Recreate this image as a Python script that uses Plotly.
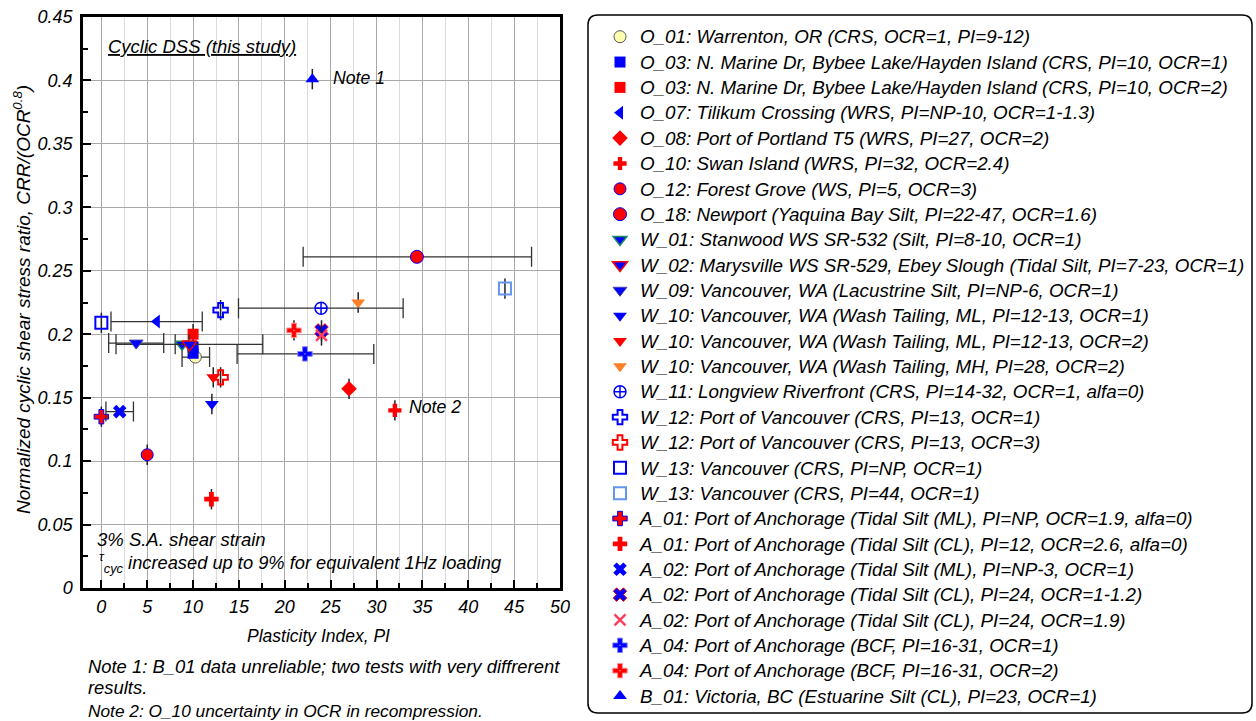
import plotly.graph_objects as go

# ---------------- data ----------------
series_labels = [
    "O_01: Warrenton, OR (CRS, OCR=1, PI=9-12)",
    "O_03: N. Marine Dr, Bybee Lake/Hayden Island (CRS, PI=10, OCR=1)",
    "O_03: N. Marine Dr, Bybee Lake/Hayden Island (CRS, PI=10, OCR=2)",
    "O_07: Tilikum Crossing (WRS, PI=NP-10, OCR=1-1.3)",
    "O_08: Port of Portland T5 (WRS, PI=27, OCR=2)",
    "O_10: Swan Island (WRS, PI=32, OCR=2.4)",
    "O_12: Forest Grove (WS, PI=5, OCR=3)",
    "O_18: Newport (Yaquina Bay Silt, PI=22-47, OCR=1.6)",
    "W_01: Stanwood WS SR-532 (Silt, PI=8-10, OCR=1)",
    "W_02: Marysville WS SR-529, Ebey Slough (Tidal Silt, PI=7-23, OCR=1)",
    "W_09: Vancouver, WA (Lacustrine Silt, PI=NP-6, OCR=1)",
    "W_10: Vancouver, WA (Wash Tailing, ML, PI=12-13, OCR=1)",
    "W_10: Vancouver, WA (Wash Tailing, ML, PI=12-13, OCR=2)",
    "W_10: Vancouver, WA (Wash Tailing, MH, PI=28, OCR=2)",
    "W_11: Longview Riverfront (CRS, PI=14-32, OCR=1, alfa=0)",
    "W_12: Port of Vancouver (CRS, PI=13, OCR=1)",
    "W_12: Port of Vancouver (CRS, PI=13, OCR=3)",
    "W_13: Vancouver (CRS, PI=NP, OCR=1)",
    "W_13: Vancouver (CRS, PI=44, OCR=1)",
    "A_01: Port of Anchorage (Tidal Silt (ML), PI=NP, OCR=1.9, alfa=0)",
    "A_01: Port of Anchorage (Tidal Silt (CL), PI=12, OCR=2.6, alfa=0)",
    "A_02: Port of Anchorage (Tidal Silt (ML), PI=NP-3, OCR=1)",
    "A_02: Port of Anchorage (Tidal Silt (CL), PI=24, OCR=1-1.2)",
    "A_02: Port of Anchorage (Tidal Silt (CL), PI=24, OCR=1.9)",
    "A_04: Port of Anchorage (BCF, PI=16-31, OCR=1)",
    "A_04: Port of Anchorage (BCF, PI=16-31, OCR=2)",
    "B_01: Victoria, BC (Estuarine Silt (CL), PI=23, OCR=1)",
]

# one entry per plotted point
point_series = [0, 1, 1, 2, 3, 4, 5, 6, 7, 8, 9, 10, 11, 12, 13, 14, 15, 16, 17, 18,
                19, 20, 21, 22, 23, 24, 25, 26]
point_pi = [10.25, 10.0, 10.0, 10.0, 6.05, 27.0, 32.0, 5.0, 34.4, 8.8, 9.6, 3.8, 12.05,
            12.2, 28.0, 23.95, 13.0, 13.0, 0.0, 44.0, 0.0, 12.0, 2.0, 24.0, 24.0, 22.2,
            21.0, 23.0]
point_crr = [0.182, 0.190, 0.185, 0.200, 0.210, 0.157, 0.140, 0.105, 0.261, 0.192, 0.192,
             0.193, 0.145, 0.166, 0.225, 0.2205, 0.219, 0.166, 0.209, 0.236, 0.135, 0.070,
             0.139, 0.203, 0.199, 0.1845, 0.203, 0.401]
pi_err_minus = [1.45, 0, 0, 0, 5.0, 0, 0, 0, 12.4, 0.75, 8.0, 3.0, 0, 0, 0, 9.0, 0, 0, 0, 0,
                0, 0, 1.5, 0, 0, 7.4, 0, 0]
pi_err_plus = [1.55, 0, 0, 0, 4.95, 0, 0, 0, 12.5, 0.75, 8.0, 3.0, 0, 0, 0, 8.95, 0, 0, 0, 0,
               0, 0, 1.5, 0, 0, 7.5, 0, 0]
crr_err = [0, 0, 0, 0.008, 0, 0.008, 0.008, 0.008, 0, 0, 0, 0, 0.008, 0.008, 0.008, 0,
           0.008, 0.008, 0.008, 0.008, 0.008, 0.008, 0, 0.008, 0.008, 0, 0.008, 0.008]

x_ticks = [0, 5, 10, 15, 20, 25, 30, 35, 40, 45, 50]

# ---------------- styles ----------------
BLUE, RED = "#0000ff", "#ff0000"
series_symbol = ["circle", "square", "square", "triangle-left", "diamond", "cross", "circle",
                 "circle", "triangle-down", "triangle-down", "triangle-down", "triangle-down",
                 "triangle-down", "triangle-down", "circle-cross-open", "cross-open",
                 "cross-open", "square-open", "square-open", "cross", "cross", "x", "x",
                 "x-thin-open", "cross-dot", "cross-dot", "triangle-up"]
series_fill = ["#ffffb0", BLUE, RED, BLUE, RED, RED, RED, RED, BLUE, BLUE, BLUE, BLUE, RED,
               "#ff7f27", BLUE, BLUE, RED, BLUE, "#6495ed", RED, RED, BLUE, BLUE, "#ff4060",
               BLUE, RED, BLUE]
series_line = ["#555555", BLUE, RED, BLUE, RED, RED, BLUE, BLUE, "#1e8c5a", RED, "#4040a0",
               BLUE, RED, "#ff7f27", BLUE, BLUE, RED, BLUE, "#6495ed", BLUE, RED, BLUE, RED,
               "#ff4060", "#8080ff", "#ff9090", BLUE]
series_lw = [1, 0, 0, 0, 0, 0, 1, 1, 1.5, 1.5, 1, 0, 0, 0, 1.5, 2, 2, 2, 2, 1, 0, 0, 1, 2.5,
             1, 1, 0]
series_size = [12, 11, 11, 12, 12, 11, 12, 13, 12, 13, 12, 12, 12, 12, 12, 12, 12, 12, 12,
               12, 12, 12, 12, 11, 12, 12, 12]

FONT = "Liberation Sans, Arial, sans-serif"
W, H = 1256, 721
ML, MR, MT, MB = 83, 696, 5, 5          # margins (px)
AX_L, AX_R, AX_T, AX_B = 83, 560, 17, 588  # axes frame (px)
GW, GH = W - ML - MR, H - MT - MB


def px(x, y):
    return (x - ML) / GW, (H - MB - y) / GH


fig = go.Figure()
for i, lab in enumerate(series_labels):
    idx = [k for k, s in enumerate(point_series) if s == i]
    xs = [point_pi[k] for k in idx]
    ys = [point_crr[k] for k in idx]
    em = [pi_err_minus[k] for k in idx]
    ep = [pi_err_plus[k] for k in idx]
    ye = [crr_err[k] for k in idx]
    fig.add_trace(go.Scatter(
        x=xs, y=ys, mode="markers",
        name=f'<span style="font-size:18.8px">{lab}</span>',
        marker=dict(symbol=series_symbol[i], color=series_fill[i], size=series_size[i],
                    line=dict(color=series_line[i], width=series_lw[i])),
        error_x=dict(type="data", array=ep, arrayminus=em, symmetric=False,
                     visible=any(v > 0 for v in em + ep), color="#333333",
                     thickness=1.3, width=10),
        error_y=dict(type="data", array=ye, visible=any(v > 0 for v in ye),
                     color="#222222", thickness=1.5, width=0),
        cliponaxis=False,
    ))

tickfont = dict(family=FONT, size=18, color="black", style="italic")
fig.update_xaxes(
    domain=[px(AX_L, 0)[0], px(AX_R, 0)[0]],
    range=[-2, 50], tickvals=x_ticks, ticks="inside", ticklen=8, tickwidth=2,
    tickcolor="black", showline=True, linewidth=2.5, linecolor="black", mirror=True,
    showgrid=True, gridcolor="#a8a8a8", gridwidth=1.3, zeroline=False, tickfont=tickfont,
    ticklabelstandoff=1,
    minor=dict(dtick=2.5, tick0=0, ticks="inside", ticklen=5, tickwidth=1.5, tickcolor="black",
               showgrid=True, gridcolor="#dcdcdc", gridwidth=1.3),
)
fig.update_yaxes(
    domain=[px(0, AX_B)[1], px(0, AX_T)[1]],
    range=[0, 0.45], dtick=0.05, tick0=0, ticks="inside", ticklen=8, tickwidth=2,
    tickcolor="black", showline=True, linewidth=2.5, linecolor="black", mirror=True,
    showgrid=True, gridcolor="#a8a8a8", gridwidth=1.3, zeroline=False, tickfont=tickfont,
    ticklabelstandoff=4,
    minor=dict(dtick=0.025, tick0=0, ticks="inside", ticklen=5, tickwidth=1.5,
               tickcolor="black", showgrid=False),
)

ann = []


def add_text(text, x, y, size=17, xanchor="left", angle=0):
    xp, yp = px(x, y)
    ann.append(dict(text=text, x=xp, y=yp, xref="paper", yref="paper", xanchor=xanchor,
                    yanchor="middle", showarrow=False, textangle=angle,
                    font=dict(family=FONT, size=size, color="black", style="italic")))


add_text("<u>Cyclic DSS (this study)</u>", 106, 46, 18.5)
add_text("Note 1", 331, 78, 17.7)
add_text("Note 2", 407, 407, 17.7)
add_text("3% S.A. shear strain", 95, 539, 18.5)
add_text("<sup>τ</sup><sub>cyc</sub> increased up to 9% for equivalent 1Hz loading",
         97, 562, 18.3)
add_text("Plasticity Index, PI", 318, 636, 17.5, "center")
add_text("Note 1: B_01 data unreliable; two tests with very diffrerent", 86, 666, 18.4)
add_text("results.", 86, 687, 18.4)
add_text("Note 2: O_10 uncertainty in OCR in recompression.", 86, 711, 17.3)
add_text("Normalized cyclic shear stress ratio, CRR/(OCR<sup>0.8</sup>)", 22, 300, 19,
         "center", -90)

# rounded legend frame
x0, y0 = px(588, 15)
x1, y1 = px(1252, 713)
rx, ry = 10 / GW, 10 / GH
path = (f"M {x0 + rx} {y0} L {x1 - rx} {y0} Q {x1} {y0} {x1} {y0 - ry} "
        f"L {x1} {y1 + ry} Q {x1} {y1} {x1 - rx} {y1} L {x0 + rx} {y1} "
        f"Q {x0} {y1} {x0} {y1 + ry} L {x0} {y0 - ry} Q {x0} {y0} {x0 + rx} {y0} Z")

lx, ly = px(600, 19)
fig.update_layout(
    width=W, height=H, autosize=False,
    margin=dict(l=ML, r=MR, t=MT, b=MB, pad=0, autoexpand=False),
    paper_bgcolor="white", plot_bgcolor="white",
    annotations=ann,
    shapes=[dict(type="path", path=path, xref="paper", yref="paper",
                 line=dict(color="black", width=1.5))],
    legend=dict(x=lx, y=ly, xanchor="left", yanchor="top", bgcolor="rgba(0,0,0,0)",
                borderwidth=0, font=dict(family=FONT, size=17.2, color="black", style="italic"),
                tracegroupgap=0, itemsizing="trace"),
    showlegend=True,
)

fig.write_html("out.html")
